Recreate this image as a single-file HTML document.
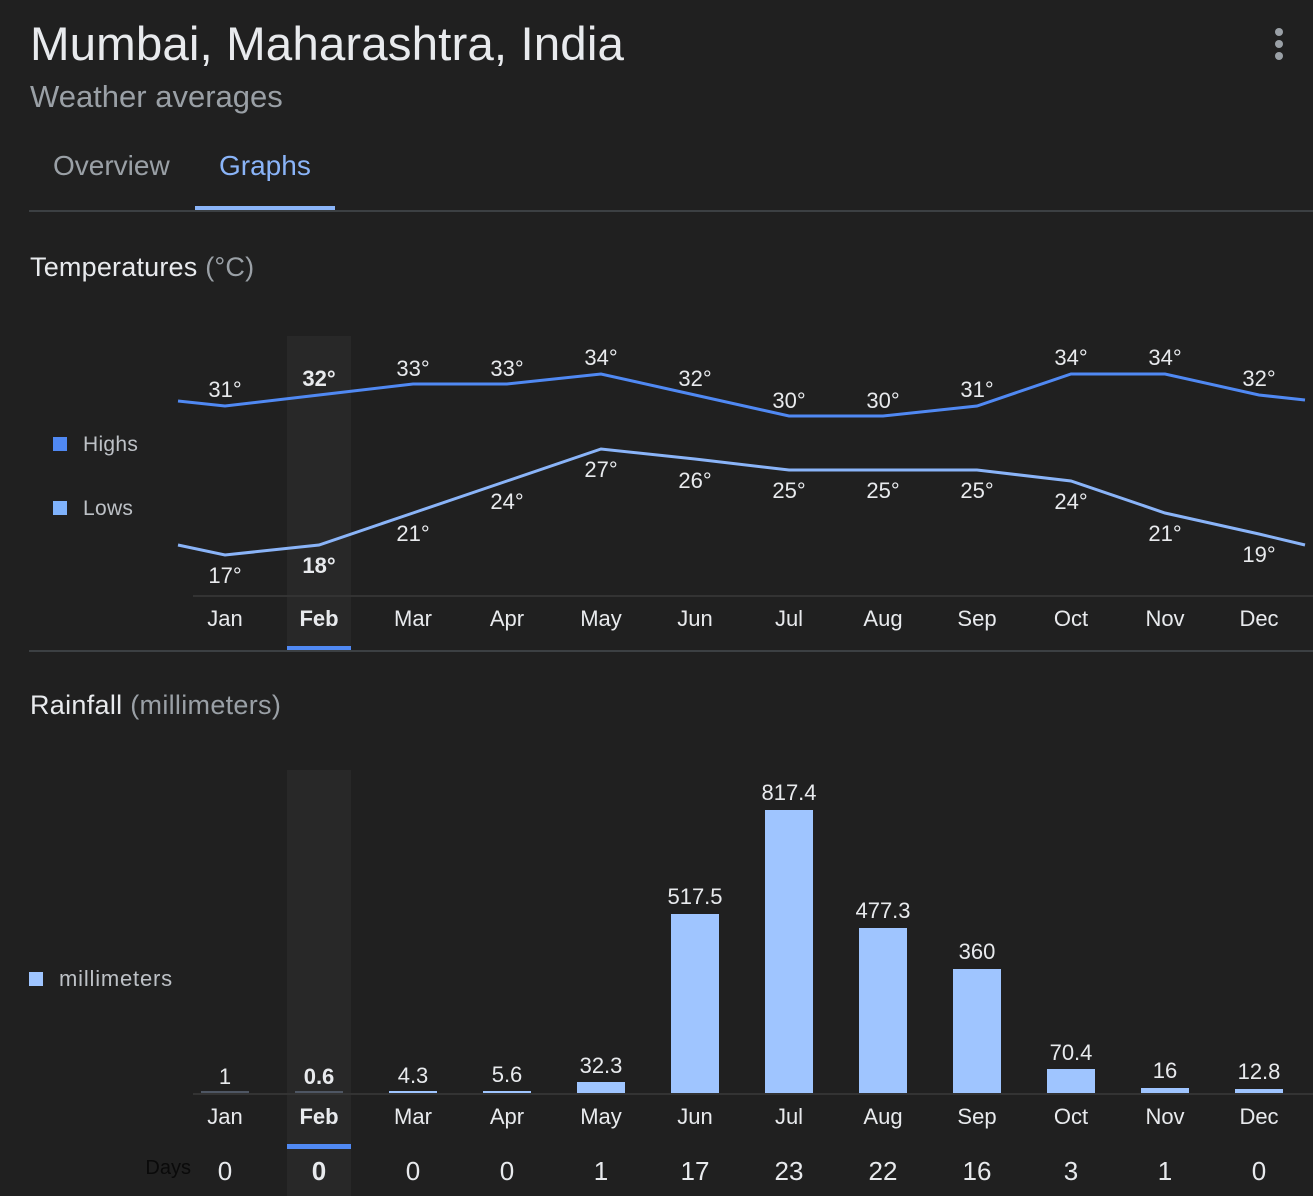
<!DOCTYPE html>
<html><head><meta charset="utf-8"><style>
html,body{margin:0;padding:0;background:#202020;}
svg{display:block;font-family:"Liberation Sans",Roboto,Arial,sans-serif;}
</style></head><body>
<svg width="1313" height="1196" viewBox="0 0 1313 1196" xmlns="http://www.w3.org/2000/svg">
<rect width="1313" height="1196" fill="#202020"/>
<text x="30" y="60" font-size="47.5" fill="#e8eaed" letter-spacing="0.1">Mumbai, Maharashtra, India</text>
<text x="30" y="107" font-size="31" fill="#9aa0a6">Weather averages</text>
<circle cx="1279" cy="32" r="4" fill="#9aa0a6"/><circle cx="1279" cy="44" r="4" fill="#9aa0a6"/><circle cx="1279" cy="56" r="4" fill="#9aa0a6"/>
<text x="53" y="175" font-size="28" fill="#9aa0a6">Overview</text>
<text x="219" y="175" font-size="28" fill="#8ab4f8">Graphs</text>
<rect x="195" y="206" width="140" height="4" fill="#8ab4f8"/>
<rect x="29" y="210" width="1284" height="2" fill="#3c4043"/>
<text x="30" y="276" font-size="27" fill="#e8eaed" letter-spacing="0.2">Temperatures <tspan fill="#9aa0a6">(°C)</tspan></text>

<rect x="287" y="336" width="64" height="315" fill="#282828"/>
<rect x="53" y="437" width="14" height="14" fill="#5089f3"/>
<text x="83" y="451" font-size="21" fill="#bdc1c6" letter-spacing="0.3">Highs</text>
<rect x="53" y="501" width="14" height="14" fill="#7fb2fb"/>
<text x="83" y="515" font-size="21" fill="#bdc1c6" letter-spacing="0.3">Lows</text>

<polyline fill="none" stroke="#5089f3" stroke-width="3" points="178,401 225,406 319,395 413,384 507,384 601,374 695,395 789,416 883,416 977,406 1071,374 1165,374 1259,395 1305,400"/>
<polyline fill="none" stroke="#8ab4f8" stroke-width="3" points="178,545 225,555 319,545 413,513 507,481 601,449 695,459 789,470 883,470 977,470 1071,481 1165,513 1259,534 1305,545"/>
<g font-size="22" fill="#e8eaed" text-anchor="middle">
<text x="225" y="397">31°</text><text x="319" y="386" font-weight="bold">32°</text><text x="413" y="376">33°</text><text x="507" y="376">33°</text><text x="601" y="365">34°</text><text x="695" y="386">32°</text><text x="789" y="408">30°</text><text x="883" y="408">30°</text><text x="977" y="397">31°</text><text x="1071" y="365">34°</text><text x="1165" y="365">34°</text><text x="1259" y="386">32°</text>
<text x="225" y="583">17°</text><text x="319" y="573" font-weight="bold">18°</text><text x="413" y="541">21°</text><text x="507" y="509">24°</text><text x="601" y="477">27°</text><text x="695" y="488">26°</text><text x="789" y="498">25°</text><text x="883" y="498">25°</text><text x="977" y="498">25°</text><text x="1071" y="509">24°</text><text x="1165" y="541">21°</text><text x="1259" y="562">19°</text>
</g>
<rect x="193" y="595" width="1120" height="2" fill="#333"/>
<g font-size="22" fill="#e8eaed" text-anchor="middle">
<text x="225" y="626">Jan</text><text x="319" y="626" font-weight="bold">Feb</text><text x="413" y="626">Mar</text><text x="507" y="626">Apr</text><text x="601" y="626">May</text><text x="695" y="626">Jun</text><text x="789" y="626">Jul</text><text x="883" y="626">Aug</text><text x="977" y="626">Sep</text><text x="1071" y="626">Oct</text><text x="1165" y="626">Nov</text><text x="1259" y="626">Dec</text>
</g>
<rect x="287" y="646" width="64" height="5" fill="#5089f3"/>
<rect x="29" y="650" width="1284" height="2" fill="#3c4043"/>

<text x="30" y="714" font-size="27" fill="#e8eaed" letter-spacing="0.3">Rainfall <tspan fill="#9aa0a6">(millimeters)</tspan></text>
<rect x="287" y="770" width="64" height="426" fill="#282828"/>
<rect x="29" y="972" width="14" height="14" fill="#9fc5ff"/>
<text x="59" y="986" font-size="22" fill="#bdc1c6" letter-spacing="0.8">millimeters</text>

<g fill="#9fc5ff">
<rect x="201" y="1091" width="48" height="2" fill="#4e5663"/>
<rect x="295" y="1091" width="48" height="2" fill="#4e5663"/>
<rect x="389" y="1091" width="48" height="2"/>
<rect x="483" y="1091" width="48" height="2"/>
<rect x="577" y="1082" width="48" height="11"/>
<rect x="671" y="914" width="48" height="179"/>
<rect x="765" y="810" width="48" height="283"/>
<rect x="859" y="928" width="48" height="165"/>
<rect x="953" y="969" width="48" height="124"/>
<rect x="1047" y="1069" width="48" height="24"/>
<rect x="1141" y="1088" width="48" height="5"/>
<rect x="1235" y="1089" width="48" height="4"/>
</g>
<rect x="193" y="1093" width="1120" height="2" fill="#333"/>
<g font-size="22" fill="#e8eaed" text-anchor="middle">
<text x="225" y="1084">1</text><text x="319" y="1084" font-weight="bold">0.6</text><text x="413" y="1083">4.3</text><text x="507" y="1082">5.6</text><text x="601" y="1073">32.3</text><text x="695" y="904">517.5</text><text x="789" y="800">817.4</text><text x="883" y="918">477.3</text><text x="977" y="959">360</text><text x="1071" y="1060">70.4</text><text x="1165" y="1078">16</text><text x="1259" y="1079">12.8</text>
<text x="225" y="1124">Jan</text><text x="319" y="1124" font-weight="bold">Feb</text><text x="413" y="1124">Mar</text><text x="507" y="1124">Apr</text><text x="601" y="1124">May</text><text x="695" y="1124">Jun</text><text x="789" y="1124">Jul</text><text x="883" y="1124">Aug</text><text x="977" y="1124">Sep</text><text x="1071" y="1124">Oct</text><text x="1165" y="1124">Nov</text><text x="1259" y="1124">Dec</text>
</g>
<rect x="287" y="1144" width="64" height="5" fill="#5089f3"/>
<text x="191" y="1174" font-size="20" fill="#0a0a0a" text-anchor="end">Days</text>
<g font-size="26" fill="#e8eaed" text-anchor="middle">
<text x="225" y="1180">0</text><text x="319" y="1180" font-weight="bold">0</text><text x="413" y="1180">0</text><text x="507" y="1180">0</text><text x="601" y="1180">1</text><text x="695" y="1180">17</text><text x="789" y="1180">23</text><text x="883" y="1180">22</text><text x="977" y="1180">16</text><text x="1071" y="1180">3</text><text x="1165" y="1180">1</text><text x="1259" y="1180">0</text>
</g>
</svg>
</body></html>
